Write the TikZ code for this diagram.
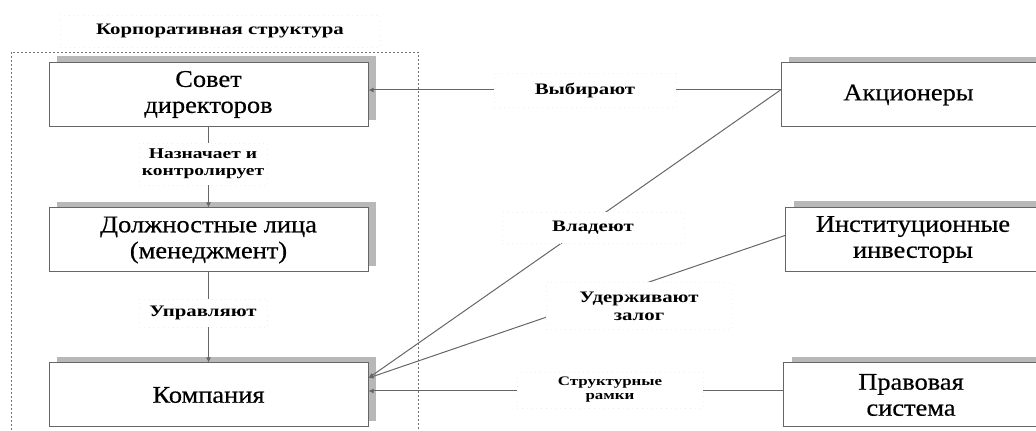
\documentclass[tikz,border=0pt]{standalone}
\usepackage{fontspec}
\setmainfont{Liberation Serif}
\newfontfamily\boxfont[FakeStretch=1.1,FakeBold=0.5]{Liberation Serif}
\newfontfamily\lblfont[FakeStretch=1.3]{Liberation Serif}
\usetikzlibrary{arrows.meta,shadows}

\begin{document}
\begin{tikzpicture}[x=0.5pt,y=-0.5pt,
  unit/.style={draw=black!60,line width=0.5pt,fill=white,align=center,
    minimum height=32pt,inner sep=1pt,font=\boxfont\fontsize{12}{13}\selectfont,
    drop shadow={shadow xshift=4pt,shadow yshift=3pt,fill=black!28,opacity=1}},
  leftunit/.style={unit,minimum width=159.5pt},
  rightunit/.style={unit,minimum width=127.5pt},
  tag/.style={fill=white,draw=black!6,dotted,align=center,inner sep=1pt,
    font=\lblfont\bfseries\fontsize{8}{9}\selectfont},
  link/.style={draw=black!60,line width=0.5pt},
  arr/.style={link,-{Latex[length=2.5pt,width=2.5pt]}}]
\useasboundingbox (0,0) rectangle (1036,431);
\draw[black!55,line width=0.4pt,dash pattern=on 1pt off 1pt] (11,52) rectangle (418,445);
\node[tag,minimum width=160pt,minimum height=16pt] (title) at (220,31) {Корпоративная структура};

\node[leftunit] (board) at (208.5,94.5) {Совет\\директоров};
\node[leftunit] (mgmt) at (208.5,240) {Должностные лица\\(менеджмент)};
\node[leftunit] (firm) at (208.5,395) {Компания};

\node[rightunit] (owners) at (908.5,95) {Акционеры};
\node[rightunit] (funds) at (913,239.5) {Институционные\\инвесторы};
\node[rightunit] (law) at (911,395) {Правовая\\система};

\coordinate (ow) at ([yshift=2.5pt]owners.west);
\coordinate (fw) at ([yshift=2pt]funds.west);
\coordinate (hi) at ([yshift=8.5pt]firm.east);
\coordinate (mid) at ([yshift=2pt]firm.east);

\draw[arr] (board) -- (mgmt);
\draw[arr] (mgmt) -- (firm);
\draw[arr] (ow) -- (board.east |- ow);
\draw[arr] (ow) -- (hi);
\draw[arr] (fw) -- (hi);
\draw[arr] (law.west |- mid) -- (mid);

\node[tag,minimum width=64pt,minimum height=21pt,font=\lblfont\bfseries\fontsize{7.5}{8.5}\selectfont] (appoint) at (203,164) {Назначает и\\контролирует};
\node[tag,minimum width=64pt,minimum height=14pt] (run) at (203,313) {Управляют};
\node[tag,minimum width=91pt,minimum height=17pt] (elect) at (585,90) {Выбирают};
\node[tag,minimum width=91pt,minimum height=15.5pt] (own) at (593,228) {Владеют};
\node[tag,minimum width=93pt,minimum height=23.5pt] (pledge) at (639,306) {Удерживают\\залог};
\node[tag,minimum width=93pt,minimum height=18pt,font=\lblfont\bfseries\fontsize{6.5}{7}\selectfont] (frame) at (610,390) {Структурные\\рамки};
\end{tikzpicture}
\end{document}
